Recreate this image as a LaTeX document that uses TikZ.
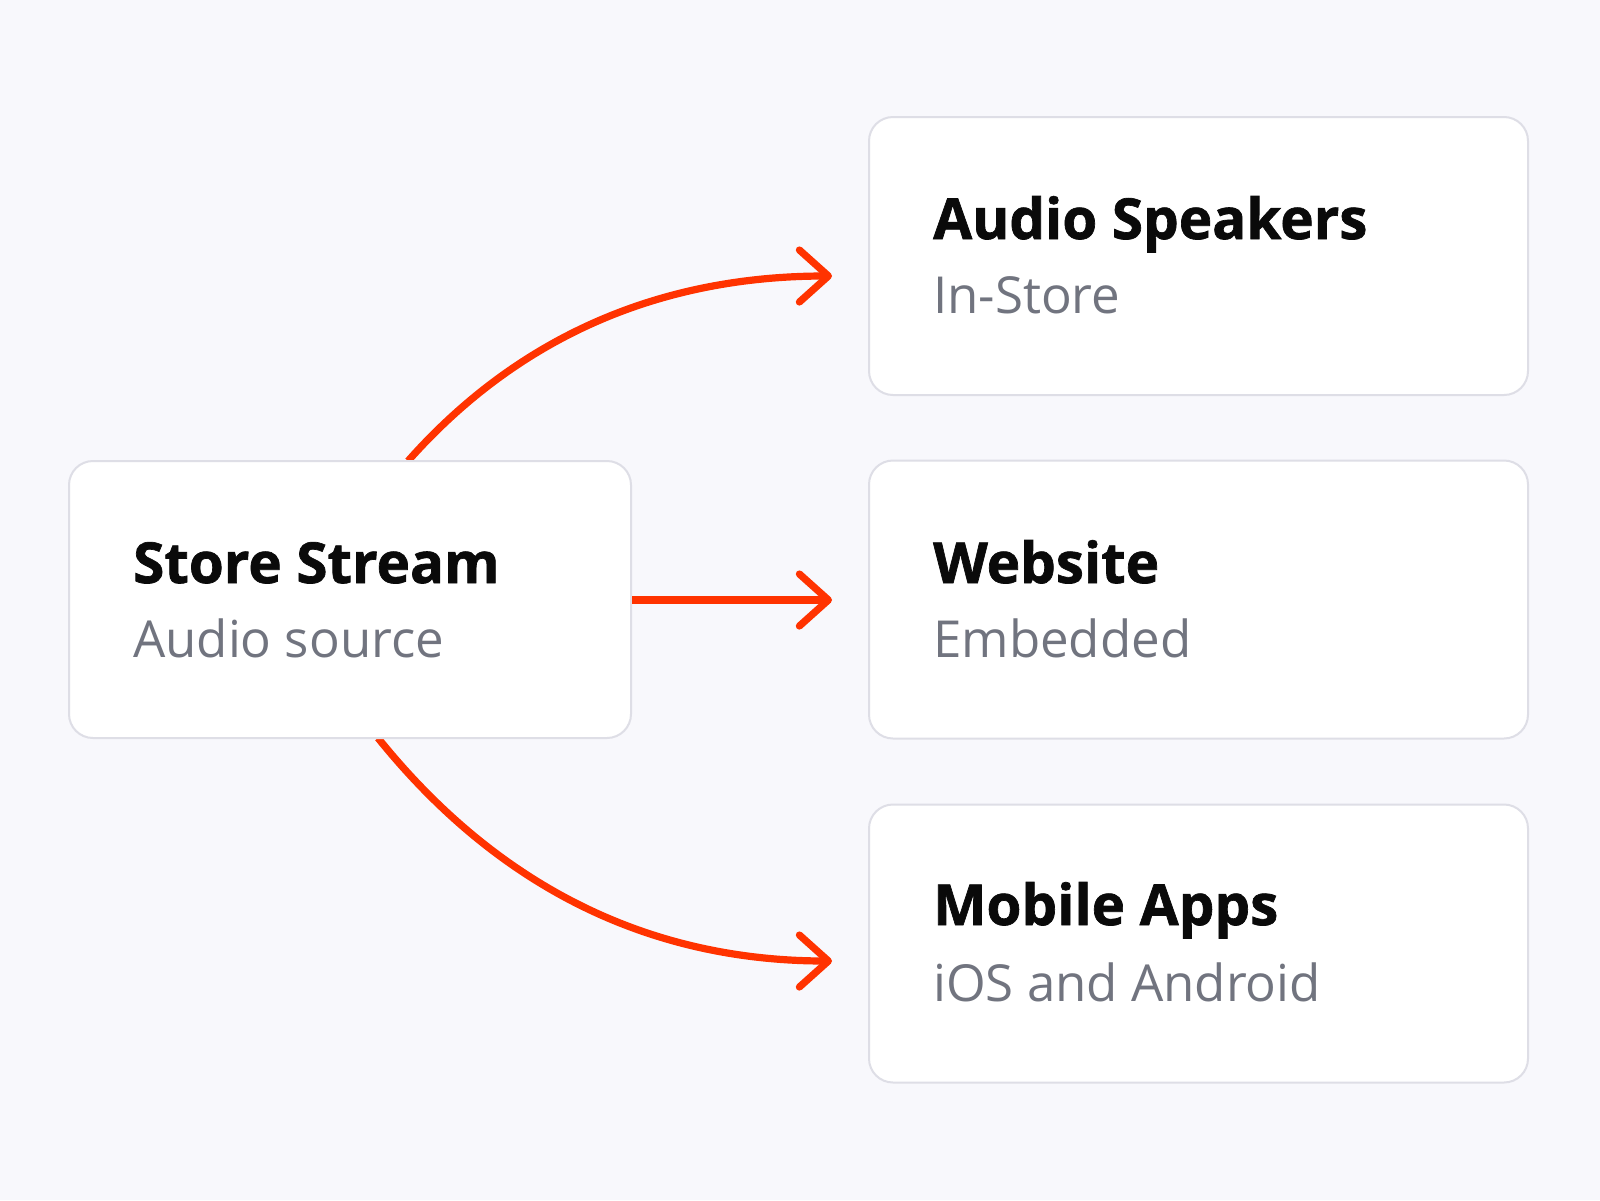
\documentclass[tikz,border=0pt]{standalone}
\usepackage{fontspec}
\setmainfont{Open Sans}
\newfontfamily\ttlfont{Open Sans}[UprightFont={* Bold}, UprightFeatures={FakeBold=1.2}]
\usetikzlibrary{arrows.meta}
\definecolor{bgc}{HTML}{F8F8FC}
\definecolor{brd}{HTML}{DEDEE6}
\definecolor{redc}{HTML}{FF3300}
\definecolor{subc}{HTML}{71747F}
\definecolor{ttlc}{HTML}{0A0A0A}
\tikzset{
  card/.style={draw=brd, line width=2pt, fill=white, rounded corners=24pt, inner sep=0pt},
  ttl/.style={anchor=base west, inner sep=0pt, text=ttlc, font=\fontsize{56.5}{60}\ttlfont},
  sub/.style={anchor=base west, inner sep=0pt, text=subc, font=\fontsize{51}{56}\selectfont},
  link/.style={draw=redc, line width=7.2pt, -{Straight Barb[length=29pt,width=52pt,round]}}
}
\begin{document}
\begin{tikzpicture}[x=1pt,y=-1pt]
\fill[bgc] (0,0) rectangle (1600,1200);
\useasboundingbox (0,0) rectangle (1600,1200);
% target tips
\coordinate (t1) at (832,276);
\coordinate (t2) at (832,600);
\coordinate (t3) at (832,961);
\coordinate (s1) at (408,461);
\coordinate (s3) at (378,738);
% curves (behind boxes)
\draw[link] (s1) .. controls (517,338) and (658,276) .. (t1);
\draw[link] (s3) .. controls (498,887) and (649,961) .. (t3);
% boxes
\node[card, minimum width=562pt, minimum height=277pt] (src) at (350,599.5) {};
\node[card, minimum width=659pt, minimum height=278pt] (b1) at (1198.5,256) {};
\node[card, minimum width=659pt, minimum height=278pt] (b2) at (1198.5,599.5) {};
\node[card, minimum width=659pt, minimum height=278pt] (b3) at (1198.5,943.5) {};
\coordinate (m0) at (src.east |- t2);
\draw[link] (m0) -- (t2);
% texts
\node[ttl] (srct) at (133,583) {Store Stream};
\node[sub] (srcs) at (133,657) {Audio source};
\node[ttl] (b1t) at (933,239) {Audio Speakers};
\node[sub] (b1s) at (933,313) {In-Store};
\node[ttl] (b2t) at (933,583) {Website};
\node[sub] (b2s) at (933,657) {Embedded};
\node[ttl] (b3t) at (933,925) {Mobile Apps};
\node[sub] (b3s) at (933,1001) {iOS and Android};
\end{tikzpicture}
\end{document}
